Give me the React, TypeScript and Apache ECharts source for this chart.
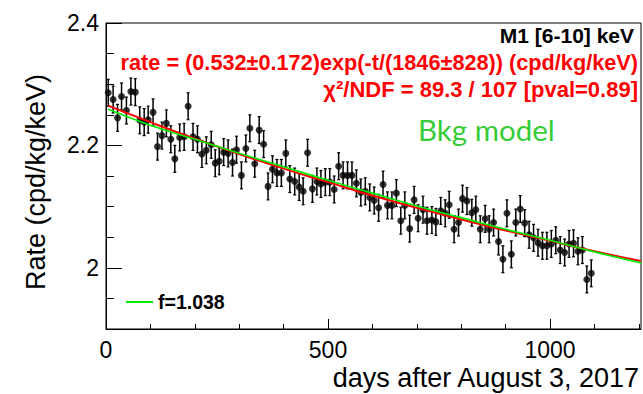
import React, { useEffect, useRef } from "react";
import * as echarts from "echarts";

const DAYS = [
  5, 16, 26, 35, 46, 56, 66, 76, 86, 95, 106, 116, 126, 136, 146, 155, 166, 176, 185, 196, 206, 216, 226,
  237, 246, 255, 265, 275, 285, 294, 305, 315, 324, 335, 345, 355, 365, 375, 385, 395, 405, 414, 425, 435, 444, 454, 465, 475,
  484, 494, 504, 514, 524, 534, 544, 554, 564, 574, 584, 594, 604, 614, 624, 634, 644, 654, 664, 673, 684, 694, 703,
  714, 723, 734, 743, 754, 764, 773, 784, 794, 803, 813, 824, 833, 843, 854, 863, 873, 884, 894, 903, 913, 923, 933, 943, 953,
  963, 973, 983, 993, 1003, 1013, 1023, 1033, 1043, 1053, 1063, 1073, 1083, 1093,
];

const RATES = [
  2.286, 2.275, 2.245, 2.28, 2.257, 2.288, 2.287, 2.241, 2.238, 2.242, 2.254, 2.198, 2.216, 2.236, 2.21, 2.178, 2.213, 2.214, 2.264, 2.214, 2.21, 2.186, 2.192,
  2.201, 2.171, 2.174, 2.189, 2.187, 2.172, 2.193, 2.151, 2.195, 2.228, 2.17, 2.225, 2.202, 2.133, 2.161, 2.155, 2.155, 2.187, 2.145, 2.141, 2.132, 2.125, 2.188, 2.129, 2.141,
  2.137, 2.14, 2.14, 2.128, 2.166, 2.151, 2.151, 2.151, 2.138, 2.123, 2.125, 2.115, 2.11, 2.098, 2.136, 2.102, 2.102, 2.122, 2.077, 2.102, 2.064, 2.111, 2.081,
  2.095, 2.077, 2.078, 2.075, 2.093, 2.089, 2.103, 2.063, 2.074, 2.113, 2.109, 2.09, 2.095, 2.063, 2.08, 2.063, 2.074, 2.043, 2.014, 2.089, 2.022, 2.074, 2.096, 2.073, 2.054,
  2.049, 2.041, 2.036, 2.036, 2.039, 2.045, 2.029, 2.025, 2.039, 2.04, 2.027, 2.029, 1.981, 1.991,
];

const RATE_ERR = 0.022;

const FIT_T = [5, 100, 200, 300, 400, 500, 600, 700, 800, 900, 1000, 1100, 1205];
const FIT_RED = [2.265, 2.238, 2.211, 2.186, 2.162, 2.14, 2.118, 2.098, 2.079, 2.061, 2.044, 2.027, 2.011];
const FIT_GREEN = [2.259, 2.233, 2.21, 2.187, 2.165, 2.143, 2.122, 2.101, 2.082, 2.063, 2.045, 2.026, 2.008];

const Y_MAJOR = [2, 2.2, 2.4];
const Y_MINOR = [1.95, 2.05, 2.1, 2.15, 2.25, 2.3, 2.35];
const X_MINOR = [100, 200, 300, 400, 600, 700, 800, 900, 1100, 1200];

const LEGEND_NAME = "f=1.038";
const TITLE = "M1 [6-10] keV";
const FIT_TEXT = "rate = (0.532±0.172)exp(-t/(1846±828)) (cpd/kg/keV)";
const CHI_TEXT = "χ²/NDF = 89.3 / 107 [pval=0.89]";
const MODEL_TEXT = "Bkg model";

const FONT = "'Liberation Sans', Arial, sans-serif";

export default function App() {
  const ref = useRef<HTMLDivElement>(null);

  useEffect(() => {
    if (!ref.current) return;
    const chart = echarts.init(ref.current, undefined, { renderer: "svg" });
    const points = DAYS.map((d, i) => [d, RATES[i], RATE_ERR]);
    const red = FIT_T.map((t, i) => [t, FIT_RED[i]]);
    const green = FIT_T.map((t, i) => [t, FIT_GREEN[i]]);

    chart.setOption({
      animation: false,
      textStyle: { fontFamily: FONT },
      grid: {
        left: 106,
        right: 2,
        top: 23,
        bottom: 65,
        show: true,
        borderColor: "#000",
        borderWidth: 1,
        backgroundColor: "transparent",
      },
      legend: {
        data: [{ name: LEGEND_NAME, icon: "rect" }],
        left: 121,
        top: 287,
        itemWidth: 27,
        itemHeight: 2,
        itemGap: 5,
        selectedMode: false,
        textStyle: { fontFamily: FONT, fontWeight: "bold", fontSize: 19.5, color: "#000" },
      },
      xAxis: [
        {
          type: "value",
          min: 0,
          max: 1205,
          interval: 500,
          name: "days after August 3, 2017",
          nameLocation: "end",
          nameGap: -2,
          nameTextStyle: {
            fontFamily: FONT,
            fontSize: 27,
            color: "#000",
            align: "right",
            verticalAlign: "top",
            padding: [35, 0, 0, 0],
          },
          axisLine: { show: true, lineStyle: { color: "#000", width: 1 } },
          axisTick: { show: true, inside: true, length: 10, lineStyle: { color: "#000" } },
          axisLabel: {
            fontFamily: FONT,
            fontSize: 23,
            color: "#000",
            margin: 9,
            showMaxLabel: false,
            formatter: (v: number) => String(v),
          },
          splitLine: { show: false },
        },
        {
          type: "value",
          min: 0,
          max: 1205,
          position: "bottom",
          axisLine: { show: false },
          axisTick: { show: true, inside: true, length: 5, customValues: X_MINOR, lineStyle: { color: "#000" } },
          axisLabel: { show: false },
          splitLine: { show: false },
        },
      ],
      yAxis: [
        {
          type: "value",
          min: 1.9,
          max: 2.4,
          name: "Rate (cpd/kg/keV)",
          nameLocation: "middle",
          nameGap: 57,
          nameTextStyle: { fontFamily: FONT, fontSize: 27, color: "#000", padding: [0, 12, 0, 0] },
          axisLine: { show: true, lineStyle: { color: "#000", width: 1 } },
          axisTick: { show: true, inside: true, length: 16, customValues: Y_MAJOR, lineStyle: { color: "#000" } },
          axisLabel: {
            fontFamily: FONT,
            fontSize: 23,
            color: "#000",
            margin: 7,
            customValues: Y_MAJOR,
            formatter: (v: number) => String(Math.round(v * 10) / 10),
          },
          splitLine: { show: false },
        },
        {
          type: "value",
          min: 1.9,
          max: 2.4,
          position: "left",
          axisLine: { show: false },
          axisTick: { show: true, inside: true, length: 8, customValues: Y_MINOR, lineStyle: { color: "#000" } },
          axisLabel: { show: false },
          splitLine: { show: false },
        },
      ],
      series: [
        {
          type: "custom",
          name: "errors",
          data: points,
          z: 2,
          renderItem: (params: any, api: any) => {
            const x = api.value(0);
            const y = api.value(1);
            const e = api.value(2);
            const top = api.coord([x, y + e]);
            const bot = api.coord([x, y - e]);
            const cap = 1.5;
            return {
              type: "group",
              children: [
                { type: "line", shape: { x1: top[0], y1: top[1], x2: bot[0], y2: bot[1] }, style: { stroke: "#000", lineWidth: 1.5 } },
                { type: "line", shape: { x1: top[0] - cap, y1: top[1], x2: top[0] + cap, y2: top[1] }, style: { stroke: "#000", lineWidth: 1.2 } },
                { type: "line", shape: { x1: bot[0] - cap, y1: bot[1], x2: bot[0] + cap, y2: bot[1] }, style: { stroke: "#000", lineWidth: 1.2 } },
              ],
            };
          },
        },
        {
          type: "scatter",
          name: "data",
          data: points.map((p) => [p[0], p[1]]),
          symbol: "circle",
          symbolSize: 7,
          itemStyle: { color: "#000" },
          z: 3,
        },
        {
          type: "line",
          name: "fit",
          data: red,
          smooth: true,
          showSymbol: false,
          lineStyle: { color: "#ff0000", width: 2 },
          z: 4,
        },
        {
          type: "line",
          name: LEGEND_NAME,
          data: green,
          smooth: true,
          showSymbol: false,
          itemStyle: { color: "#00ee00" },
          lineStyle: { color: "#00ee00", width: 1.6 },
          z: 5,
        },
      ],
      graphic: [
        {
          type: "text",
          right: 9,
          top: 25,
          style: { text: TITLE, fontFamily: FONT, fontWeight: "bold", fontSize: 21, fill: "#000" },
        },
        {
          type: "text",
          right: 5,
          top: 51,
          style: { text: FIT_TEXT, fontFamily: FONT, fontWeight: "bold", fontSize: 21.7, fill: "#ff0000" },
        },
        {
          type: "text",
          right: 5,
          top: 78,
          style: { text: CHI_TEXT, fontFamily: FONT, fontWeight: "bold", fontSize: 22, fill: "#ff0000" },
        },
        {
          type: "text",
          left: 418,
          top: 114,
          style: { text: MODEL_TEXT, fontFamily: "Lato, 'Open Sans', sans-serif", fontSize: 29.5, fill: "#36cc36" },
        },
      ],
    });

    return () => chart.dispose();
  }, []);

  return <div ref={ref} style={{ width: 643, height: 394, position: "absolute", left: 0, top: 0 }} />;
}
